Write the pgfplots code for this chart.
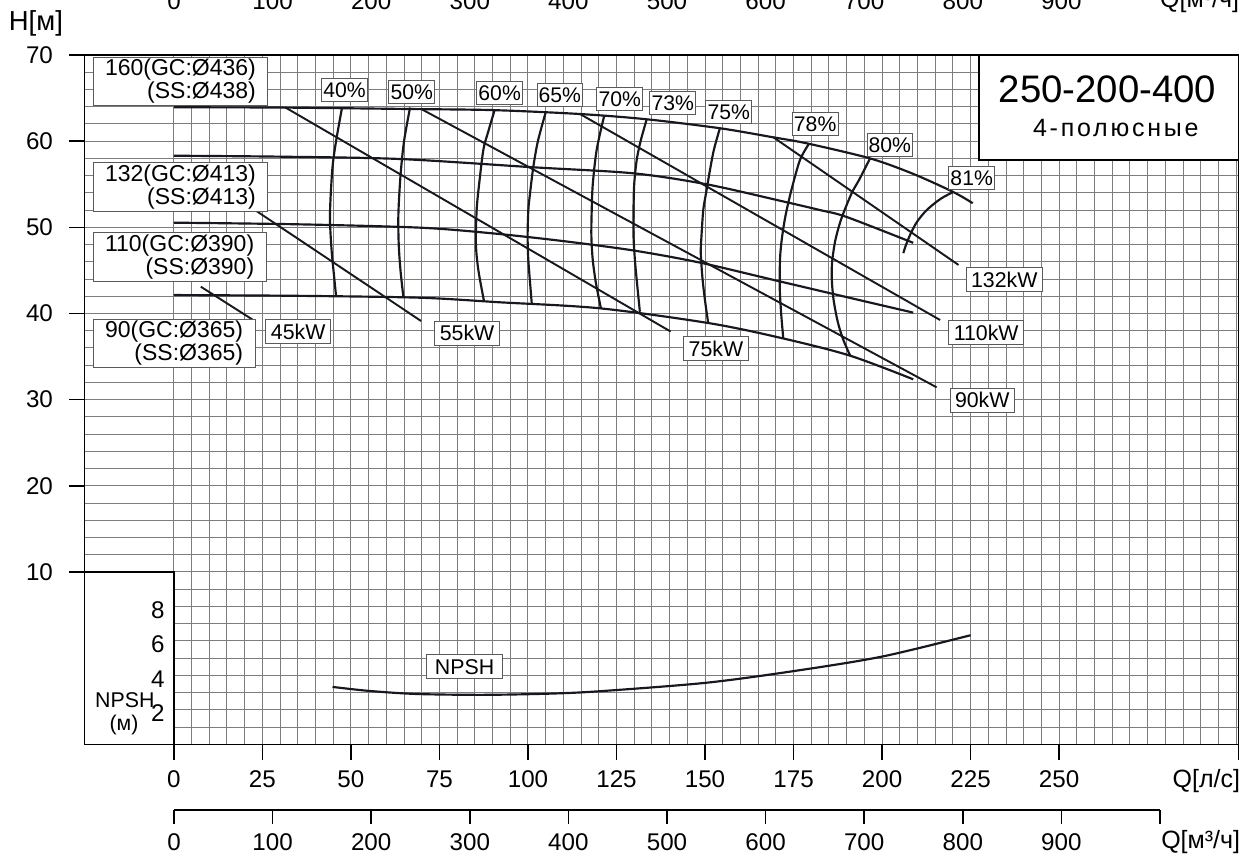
\documentclass[border=0pt]{standalone}
\usepackage{fontspec}
\setmainfont{Liberation Sans}
\usepackage{pgfplots}
\usepackage{pgfplotstable}
\pgfplotsset{compat=1.18}
\usetikzlibrary{calc}
\definecolor{gridc}{RGB}{125,125,125}
\definecolor{crv}{RGB}{22,24,30}
\definecolor{boxc}{RGB}{90,90,90}

% H-Q curves (Q in l/s, H in m)
\pgfplotstableread{
Q H
0 63.93
30 63.90
66.7 63.73
90.4 63.60
114.7 63.15
133.5 62.54
154.2 61.5
169.2 60.45
178.7 59.75
196.6 58.0
208.8 56.2
220.1 54.1
225.6 52.8
}\hqA
\pgfplotstableread{
Q H
0 58.31
30 58.2
63.8 57.93
101.4 56.97
129.7 56.27
150.5 54.99
172.1 53.0
182.5 52.0
190 51.2
208.8 48.2
}\hqB
\pgfplotstableread{
Q H
0 50.54
35 50.35
69.5 49.96
90 49.3
110 48.4
130 47.3
148.6 45.9
169.3 43.9
190 41.9
208.8 40.1
}\hqC
\pgfplotstableread{
Q H
0 42.14
35 42.05
69.5 41.83
92 41.3
120.3 40.6
151.4 38.86
172.1 37.1
191 35.1
208.8 32.36
}\hqD
% NPSH (m)
\pgfplotstableread{
Q N
44.8 3.33
55 3.1
68.5 2.92
87.4 2.87
106.2 2.94
120.3 3.08
150.3 3.57
175.1 4.25
200 5.09
225 6.33
}\npsh
% iso-efficiency curves
\pgfplotstableread{
Q H
47.5 63.93
45.8 60
44.8 57
44.2 53
44.1 50.5
44.6 47
45.2 44.5
45.8 42.0
}\eA
\pgfplotstableread{
Q H
66.7 63.9
65.0 60
64.0 56
63.4 51.5
63.5 48
64.0 45
64.8 41.95
}\eB
\pgfplotstableread{
Q H
90.5 63.5
88.7 61
87.4 59
86.2 55
85.5 52
85.3 48
86.0 45
87.6 41.4
}\eC
\pgfplotstableread{
Q H
105 63.35
102.8 60
101.5 57.0
100.6 54
100.1 52.0
99.9 49
100.1 46.2
101.1 41.0
}\eD
\pgfplotstableread{
Q H
121.5 62.9
119.4 59
118.3 55
118.0 52.0
117.9 49
118.3 46.2
119.2 43.5
120.6 40.6
}\eE
\pgfplotstableread{
Q H
133.5 62.5
131.8 60
130.7 57.8
130.0 55
129.8 52.0
129.8 49
130.2 46.2
130.8 43.5
131.6 40.2
}\eF
\pgfplotstableread{
Q H
154.2 61.5
152.5 59
151.4 56.65
150.3 54
149.5 52.0
149.0 49
148.8 47
149.3 44
150.0 41.5
150.9 38.86
}\eG
\pgfplotstableread{
Q H
179.2 59.6
176.8 57.8
174.5 54.5
172.8 51.5
171.8 49
171.2 46.5
171.1 43
171.5 40
172.1 37.1
}\eH
\pgfplotstableread{
Q H
196.6 58.0
193.5 55.5
191.4 53.95
188.5 51
186.8 48.5
185.9 46
185.8 44
186.3 41.6
187.5 39
189.0 37
191.0 35.1
}\eI
\pgfplotstableread{
Q H
220.1 54.1
216.5 53.3
212.6 52.0
209.8 50.6
208.0 49.2
206.7 47.9
206.0 47.0
}\eJ

\tikzset{
  crv/.style={line width=1.3pt, color=crv, mark=none},
  pwr/.style={line width=1.15pt, color=crv, mark=none},
  lbl/.style={draw=boxc, line width=0.6pt, fill=white, inner xsep=1pt, inner ysep=2.5pt, font=\fontsize{12.7}{14}\selectfont},
  kw/.style={draw=boxc, line width=0.6pt, fill=white, inner xsep=3pt, inner ysep=2.6pt, font=\fontsize{12.8}{14}\selectfont},
  dia/.style={draw=boxc, line width=0.6pt, fill=white, anchor=west, align=right, inner xsep=7.2pt, inner ysep=1.2pt, font=\fontsize{13.8}{13.8}\selectfont},
  npl/.style={anchor=east, inner sep=0pt, font=\fontsize{14.5}{16}\selectfont, yshift=-2pt},
}

\begin{document}
\begin{tikzpicture}
\begin{axis}[name=main,
  scale only axis, width=692.4pt, height=413.58pt,
  xmin=-25.3, xmax=300.6, ymin=-10, ymax=70,
  clip=false,
  axis line style={line width=0.9pt, black},
  tick pos=left, tick align=outside,
  major tick length=9.3pt, minor tick length=0pt,
  tick style={line width=0.9pt, black},
  xtick={0,25,...,250,300.6},
  xticklabels={0,25,50,75,100,125,150,175,200,225,250,{}},
  ytick={10,20,...,70},
  minor xtick={0,5,...,300},
  minor ytick={-10,-8,...,70},
  grid=minor,
  minor grid style={line width=0.6pt, color=gridc},
  ticklabel style={font=\fontsize{14.5}{16}\selectfont},
  xticklabel style={yshift=-3pt},
  yticklabel style={xshift=-6pt},
  /pgf/number format/assume math mode=true,
]
% H-Q curves
\addplot[crv, smooth] table[x=Q,y=H] {\hqA};
\addplot[crv, smooth] table[x=Q,y=H] {\hqB};
\addplot[crv, smooth] table[x=Q,y=H] {\hqC};
\addplot[crv, smooth] table[x=Q,y=H] {\hqD};
% power lines
\addplot[pwr] coordinates {(7.6,43.11) (22.4,39.24)};
\addplot[pwr] coordinates {(20.0,52.8) (69.8,39.13)};
\addplot[pwr] coordinates {(31.4,63.93) (140.3,37.9)};
\addplot[pwr] coordinates {(70,63.7) (215.4,31.43)};
\addplot[pwr] coordinates {(114.7,63.15) (216.4,39.24)};
\addplot[pwr] coordinates {(169.3,60.45) (221.6,45.63)};
% efficiency curves
\addplot[crv, smooth] table[x=Q,y=H] {\eA};
\addplot[crv, smooth] table[x=Q,y=H] {\eB};
\addplot[crv, smooth] table[x=Q,y=H] {\eC};
\addplot[crv, smooth] table[x=Q,y=H] {\eD};
\addplot[crv, smooth] table[x=Q,y=H] {\eE};
\addplot[crv, smooth] table[x=Q,y=H] {\eF};
\addplot[crv, smooth] table[x=Q,y=H] {\eG};
\addplot[crv, smooth] table[x=Q,y=H] {\eH};
\addplot[crv, smooth] table[x=Q,y=H] {\eI};
\addplot[crv, smooth] table[x=Q,y=H] {\eJ};
% NPSH curve (NPSH scale: 0..10 m drawn over H = -10..10)
\addplot[crv, smooth] table[x=Q, y expr=2*\thisrow{N}-10] {\npsh};

% NPSH box at left
\fill[white] (axis cs:-25.3,-10) rectangle (axis cs:0,10);
\draw[line width=0.9pt, black] (axis cs:-25.3,-10) rectangle (axis cs:0,10);
\node[npl] at (axis cs:-2.54,6) {8};
\node[npl] at (axis cs:-2.54,2) {6};
\node[npl] at (axis cs:-2.54,-2) {4};
\node[npl] at (axis cs:-2.54,-6) {2};
\node[inner sep=0pt, font=\fontsize{12.8}{14}\selectfont] at (axis cs:-13.84,-4.92) {NPSH};
\node[inner sep=0pt, font=\fontsize{12.8}{14}\selectfont] at (axis cs:-14.1,-7.76) {(м)};

% title box
\filldraw[fill=white, draw=black, line width=0.8pt] (axis cs:227.4,57.81) rectangle (axis cs:300.6,70);
\node[inner sep=0pt, font=\fontsize{23}{26}\selectfont] at (axis cs:263.7,66.05) {250-200-400};
\node[inner sep=0pt, font=\fontsize{15}{17}\selectfont\addfontfeatures{LetterSpace=11}] at (axis cs:266.0,61.49) {4-полюсные};

% diameter boxes
\node[dia] at (axis cs:-22.97,66.92) {160(GC:Ø436)\\(SS:Ø438)};
\node[dia] at (axis cs:-22.97,54.66) {132(GC:Ø413)\\(SS:Ø413)};
\node[dia] at (axis cs:-22.97,46.57) {110(GC:Ø390)\\(SS:Ø390)};
\node[dia] at (axis cs:-22.97,36.54) {90(GC:Ø365)\\(SS:Ø365)};

% efficiency labels
\node[lbl] at (axis cs:48.2,65.91) {40\%};
\node[lbl] at (axis cs:67.2,65.73) {50\%};
\node[lbl] at (axis cs:92.0,65.6) {60\%};
\node[lbl] at (axis cs:109.0,65.36) {65\%};
\node[lbl] at (axis cs:125.9,64.87) {70\%};
\node[lbl] at (axis cs:140.9,64.4) {73\%};
\node[lbl] at (axis cs:156.7,63.4) {75\%};
\node[lbl] at (axis cs:181.1,62.0) {78\%};
\node[lbl] at (axis cs:202.2,59.54) {80\%};
\node[lbl] at (axis cs:225.3,55.69) {81\%};

% power labels
\node[kw] at (axis cs:35.1,37.91) {45kW};
\node[kw] at (axis cs:82.8,37.7) {55kW};
\node[kw] at (axis cs:153.1,35.9) {75kW};
\node[kw] at (axis cs:234.5,43.92) {132kW};
\node[kw] at (axis cs:229.4,37.8) {110kW};
\node[kw] at (axis cs:228.3,29.92) {90kW};
\node[kw, inner xsep=5pt] at (axis cs:82.1,-1.0) {NPSH};

% axis captions
\node[inner sep=0pt, font=\fontsize{16.5}{18}\selectfont] at (axis cs:-38.98,73.68) {H[м]};
\node[anchor=east, inner sep=0pt, font=\fontsize{15}{16}\selectfont] at (axis cs:301.2,-14.3) {Q[л/с]};
\node[anchor=east, inner sep=0pt, font=\fontsize{15}{16}\selectfont] at (axis cs:301.2,-21.31) {Q[м³/ч]};
\node[anchor=east, inner sep=0pt, font=\fontsize{15}{16}\selectfont] at (axis cs:300.9,76.21) {Q[м³/ч]};
\end{axis}

% secondary flow scale in m3/h (bottom)
\begin{axis}[
  at={($(main.south west)+(53.82pt,-39.42pt)$)}, anchor=south west,
  scale only axis, width=591.6pt, height=5pt,
  xmin=0, xmax=1000, ymin=0, ymax=1,
  axis x line=bottom, axis y line=none,
  x axis line style={-, line width=0.9pt, black},
  tick align=outside, major tick length=8.4pt,
  tick style={line width=0.9pt, black},
  xtick={0,100,...,1000},
  xticklabels={0,100,200,300,400,500,600,700,800,900,{}},
  ticklabel style={font=\fontsize{14.5}{16}\selectfont},
  xticklabel style={yshift=-2pt},
]
\addplot[draw=none] coordinates {(0,0) (1000,1)};
\end{axis}

% secondary flow scale in m3/h (top, cropped by the page edge)
\begin{axis}[
  at={($(main.south west)+(53.82pt,464.7pt)$)}, anchor=south west,
  scale only axis, width=591.6pt, height=5pt,
  xmin=0, xmax=1000, ymin=0, ymax=1,
  axis x line=bottom, axis y line=none,
  x axis line style={-, line width=0.9pt, black},
  tick align=outside, major tick length=8.4pt,
  tick style={line width=0.9pt, black},
  xtick={0,100,...,1000},
  xticklabels={0,100,200,300,400,500,600,700,800,900,{}},
  ticklabel style={font=\fontsize{14.5}{16}\selectfont},
  xticklabel style={yshift=-2pt},
]
\addplot[draw=none] coordinates {(0,0) (1000,1)};
\end{axis}

\pgfresetboundingbox
\useasboundingbox ($(main.south west)+(-50.58pt,-67.02pt)$) rectangle ($(main.south west)+(700.02pt,446.58pt)$);
\end{tikzpicture}
\end{document}
